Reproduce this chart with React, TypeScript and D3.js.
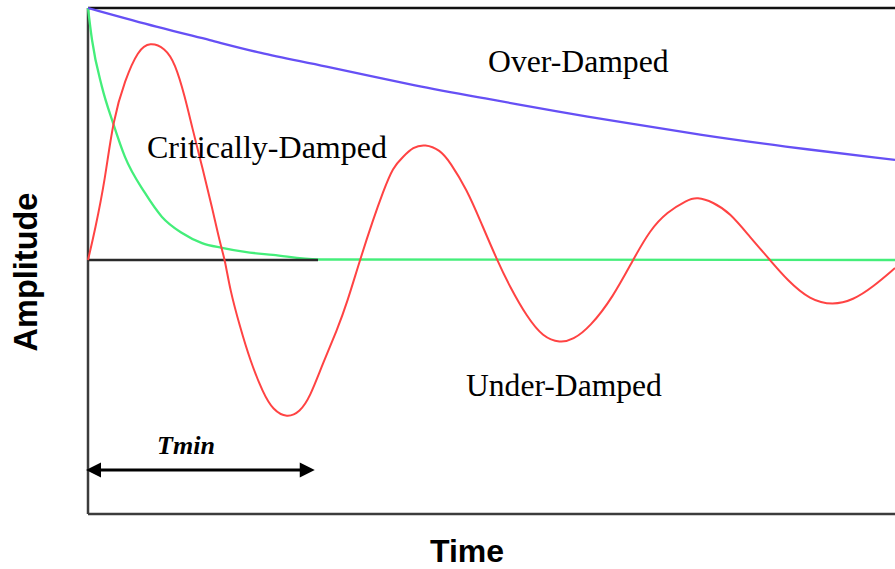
import React from "react";
import * as d3 from "d3";

// time (0..100) and amplitude (-100..100) readings
const underTime = [0, 0.87, 2.11, 3.1, 4.58, 6.2, 7.68, 9.54, 10.78, 12.02, 12.89, 14.25, 15.37, 16.36, 16.98, 17.6, 18.84, 20.07, 21.69, 22.92, 24.66, 26.27, 27.51, 29.12, 30.86, 32.09, 33.7, 35.32, 36.56, 37.79, 39.03, 40.27, 41.76, 43.62, 44.86, 46.96, 48.57, 50.68, 52.29, 54.4, 56.38, 58.49, 60.1, 62.21, 65.06, 67.53, 69.64, 71.75, 74.23, 75.46, 77.45, 79.55, 82.03, 84.51, 86.62, 89.47, 92.32, 94.8, 97.27, 100];
const underAmp = [0, 11.9, 31.7, 55.6, 71.4, 83.3, 86.5, 84.1, 78.2, 64.7, 52.8, 35.7, 21.0, 6.7, 0, -11.9, -26.6, -39.7, -52.8, -59.5, -62.7, -60.3, -54.4, -40.9, -27.8, -17.1, 0, 15.9, 27.0, 36.9, 40.9, 44.8, 46.0, 43.7, 38.9, 27.8, 15.9, 0, -10.7, -22.6, -30.6, -32.9, -31.7, -26.6, -14.7, 0, 11.9, 19.0, 23.8, 25.0, 23.0, 18.7, 9.1, 0, -7.9, -15.9, -17.9, -15.9, -10.7, -3.2];

const criticalTime = [0, 0.5, 1.73, 3.1, 4.58, 7.06, 9.17, 11.65, 14.13, 16.6, 19.45, 22.92, 28.5, 100];
const criticalAmp = [100, 87.3, 68.7, 54.4, 40.9, 26.6, 17.1, 10.7, 6.7, 4.8, 3.2, 2.0, 0.2, 0];

const overTime = [0, 8.92, 15.12, 21.19, 28.75, 41.14, 48.95, 58.49, 65.92, 75.84, 85.75, 100];
const overAmp = [100, 92.1, 87.3, 82.1, 77.4, 68.7, 64.3, 58.7, 54.8, 49.6, 45.2, 39.7];

const baselineSpan = [0, 28.5];
const tminSpan = [0, 28.1];
const tminLevel = -83.3;

const labels = { over: "Over-Damped", critical: "Critically-Damped", under: "Under-Damped", tmin: "Tmin", x: "Time", y: "Amplitude" };

export default function App() {
  const W = 895, H = 569;
  const x = d3.scaleLinear().domain([0, 100]).range([88, 895]);
  const y = d3.scaleLinear().domain([-100.8, 100]).range([514, 8]);

  const mk = (ts: number[], as: number[], curve: any) =>
    d3.line<number>().x((_, i) => x(ts[i])).y((_, i) => y(as[i])).curve(curve)(ts) || "";

  const red = mk(underTime, underAmp, d3.curveBasis);
  const green = mk(criticalTime, criticalAmp, d3.curveMonotoneX);
  const blue = mk(overTime, overAmp, d3.curveBasis);

  const serif = "'Liberation Serif', 'Times New Roman', serif";
  const sans = "'Liberation Sans', Arial, sans-serif";

  const ax0 = x(tminSpan[0]), ax1 = x(tminSpan[1]), ay = y(tminLevel);
  const hl = 15, hw = 7.5;

  return (
    <svg width={W} height={H} style={{ position: "absolute", left: 0, top: 0, background: "#fff" }}>
      {/* frame */}
      <line x1={x(0)} x2={x(100)} y1={y(100)} y2={y(100)} stroke="#111" strokeWidth={2.5} />
      <line x1={x(0)} x2={x(100)} y1={y(-100.8)} y2={y(-100.8)} stroke="#3c3c3c" strokeWidth={2.5} />
      <line x1={x(0)} x2={x(0)} y1={y(100)} y2={y(-100.8)} stroke="#3c3c3c" strokeWidth={2.5} />

      <path d={green} fill="none" stroke="#44ee7a" strokeWidth={2.3} />
      <line x1={x(baselineSpan[0])} x2={x(baselineSpan[1])} y1={y(0)} y2={y(0)} stroke="#2a2a2a" strokeWidth={2.5} />
      <path d={blue} fill="none" stroke="#6650f5" strokeWidth={2.3} />
      <path d={red} fill="none" stroke="#ff4343" strokeWidth={2} />

      {/* Tmin arrow */}
      <line x1={ax0 + hl - 2} x2={ax1 - hl + 2} y1={ay} y2={ay} stroke="#000" strokeWidth={3} />
      <path d={`M${ax0 - 2},${ay} L${ax0 - 2 + hl},${ay - hw} L${ax0 - 2 + hl},${ay + hw} Z`} fill="#000" />
      <path d={`M${ax1},${ay} L${ax1 - hl},${ay - hw} L${ax1 - hl},${ay + hw} Z`} fill="#000" />
      <text x={186} y={454} textAnchor="middle" fontFamily={serif} fontWeight="bold" fontStyle="italic" fontSize={26}>{labels.tmin}</text>

      <text x={488} y={72} fontFamily={serif} fontSize={31.7}>{labels.over}</text>
      <text x={147} y={158} fontFamily={serif} fontSize={32}>{labels.critical}</text>
      <text x={466} y={396} fontFamily={serif} fontSize={31.6}>{labels.under}</text>

      <text x={467} y={562} textAnchor="middle" fontFamily={sans} fontWeight="bold" fontSize={32}>{labels.x}</text>
      <text transform="translate(37,272) rotate(-90)" textAnchor="middle" fontFamily={sans} fontWeight="bold" fontSize={32.5}>{labels.y}</text>
    </svg>
  );
}
